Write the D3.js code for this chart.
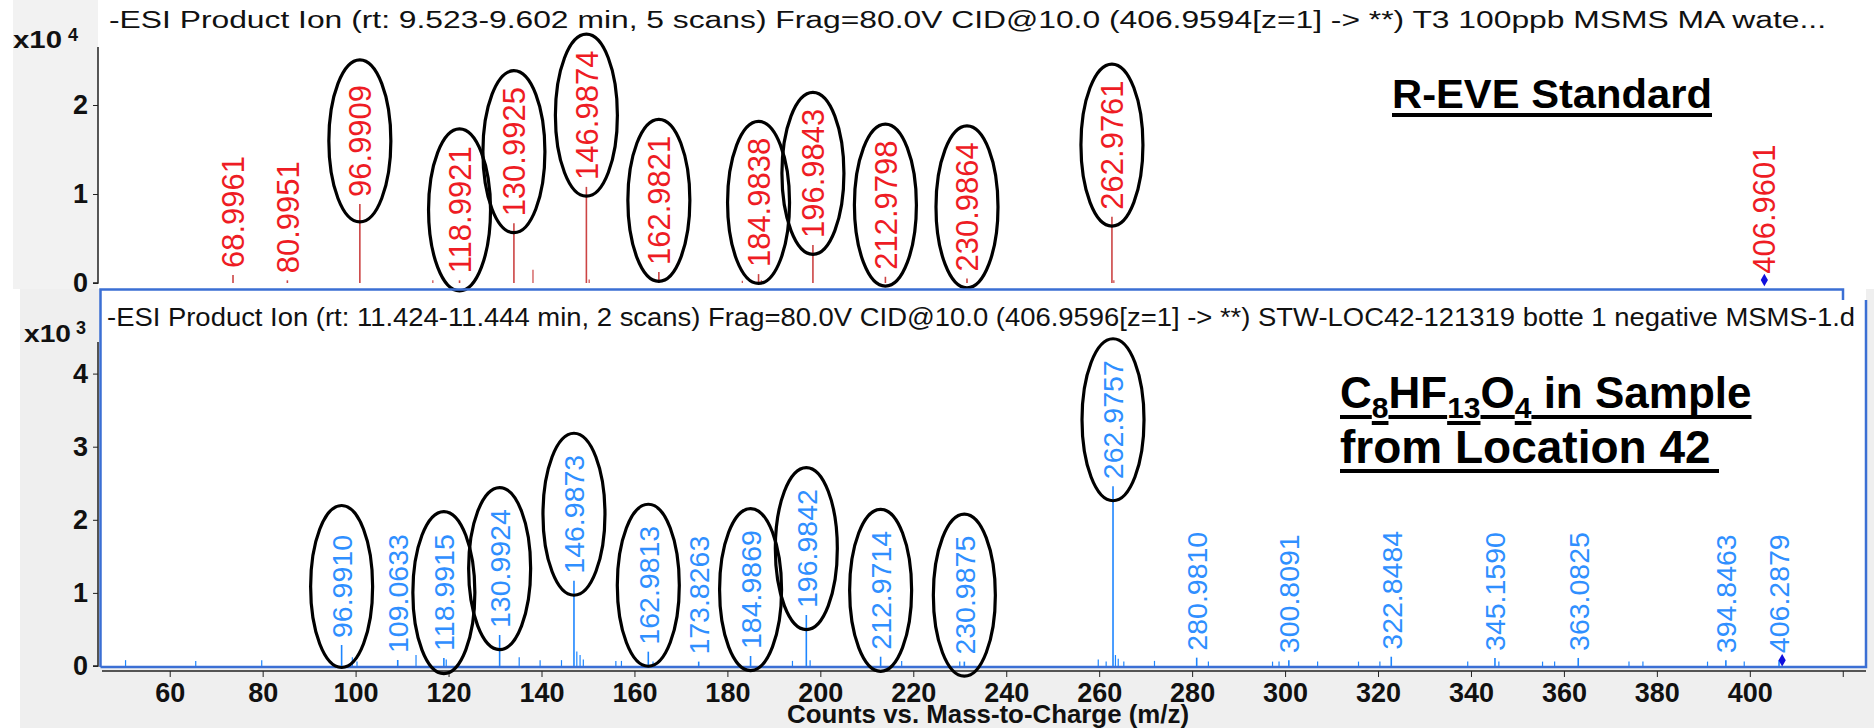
<!DOCTYPE html>
<html>
<head>
<meta charset="utf-8">
<script src="https://cdn.jsdelivr.net/npm/d3@7"></script>
<style>
  body { margin: 0; background: #ffffff; }
  svg { display: block; font-family: "Liberation Sans", Arial, sans-serif; }
</style>
</head>
<body>
<div id="plot"></div>
<script>
// two stacked MS/MS spectra, standard on top, sample below

const w = 1874;
const h = 728;

// ---- data: top spectrum (R-EVE standard), counts
const topMz = [68.9961, 80.9951, 96.9909, 118.9921, 130.9925, 146.9874, 162.9821,
               184.9838, 196.9843, 212.9798, 230.9864, 262.9761, 406.9601];
const topInt = [900, 300, 8880, 300, 6700, 10800, 1240, 1000, 4270, 700, 500, 7450, 250];
const topCircled = [0, 0, 1, 1, 1, 1, 1, 1, 1, 1, 1, 1, 0];
const topNoiseMz = [113.1, 135.2, 147.6, 181.4, 185.6, 263.4];
const topNoiseInt = [300, 1500, 400, 250, 300, 300];
const topPrecursor = [406.9594];
const topPrecursorInt = [350];

// ---- data: bottom spectrum (sample, location 42), counts
const botMz = [96.9910, 109.0633, 118.9915, 130.9924, 146.9873, 162.9813, 173.8263,
               184.9869, 196.9842, 212.9714, 230.9875, 262.9757, 280.9810, 300.8091,
               322.8484, 345.1590, 363.0825, 394.8463, 406.2879];
const botInt = [287, 82, 110, 424, 1167, 196, 60, 137, 698, 127, 60, 2460, 114, 80,
                127, 110, 110, 80, 80];
const botCircled = [1, 0, 1, 1, 1, 1, 0, 1, 1, 1, 1, 1, 0, 0, 0, 0, 0, 0, 0];
const botNoiseMz = [50.5, 65.6, 79.8, 99.3, 100.3, 113.0, 119.5, 135.2, 139.7, 144.3,
                    147.6, 148.3, 149.0, 156.0, 157.2, 164.0, 194.0, 197.8, 217.5, 230.0,
                    259.8, 261.5, 263.5, 264.1, 265.3, 271.9, 283.5, 297.3, 298.7, 307.0,
                    315.8, 320.4, 339.3, 346.0, 355.4, 358.0, 374.0, 377.0, 390.9, 398.8];
const botNoiseInt = [80, 70, 80, 120, 60, 150, 90, 120, 80, 80,
                     200, 150, 90, 70, 70, 60, 70, 80, 70, 60,
                     90, 60, 150, 100, 60, 70, 60, 60, 60, 60,
                     60, 60, 60, 60, 60, 60, 60, 60, 60, 60];
const botPrecursor = [406.9596];
const botPrecursorInt = [80];

// ---- tick values
const xTicks = [60, 80, 100, 120, 140, 160, 180, 200, 220, 240, 260, 280, 300, 320, 340, 360, 380, 400, 420];
const topYTicks = [0, 10000, 20000];
const botYTicks = [0, 1000, 2000, 3000, 4000];

const topTitle = "-ESI Product Ion (rt: 9.523-9.602 min, 5 scans) Frag=80.0V CID@10.0 (406.9594[z=1] -> **) T3 100ppb MSMS MA wate...";
const botTitle = "-ESI Product Ion (rt: 11.424-11.444 min, 2 scans) Frag=80.0V CID@10.0 (406.9596[z=1] -> **) STW-LOC42-121319 botte 1 negative MSMS-1.d";

const fmt = d3.format(".4f");

// scales
const xTop = d3.scaleLinear().domain([39.2, 424.1]).range([98, 1842]);
const yTop = d3.scaleLinear().domain([0, 10000]).range([283, 194]);
const xBot = d3.scaleLinear().domain([45, 425]).range([100, 1866]);
const yBot = d3.scaleLinear().domain([0, 1000]).range([666, 592.9]);

const svg = d3.select("#plot")
  .append("svg")
    .attr("width", w)
    .attr("height", h);

// backgrounds
svg.append("rect").attr("x", 0).attr("y", 0).attr("width", w).attr("height", h).attr("fill", "#ffffff");
svg.append("rect").attr("x", 13).attr("y", 0).attr("width", 85).attr("height", 289).attr("fill", "#f2f2f2");
svg.append("rect").attr("x", 20).attr("y", 289).attr("width", 1854).attr("height", h - 289).attr("fill", "#efefef");
svg.append("rect").attr("x", 100).attr("y", 289).attr("width", 1766).attr("height", 378).attr("fill", "#ffffff");

// ---------- top panel ----------
const topG = svg.append("g");

topG.append("text")
    .attr("x", 109).attr("y", 28)
    .attr("font-size", 23)
    .attr("fill", "#111")
    .attr("textLength", 1717)
    .attr("lengthAdjust", "spacingAndGlyphs")
    .text(topTitle);

topG.append("g")
    .attr("transform", "translate(98,0)")
    .call(d3.axisLeft(yTop).tickValues(topYTicks).tickFormat(d => d / 10000).tickSize(5).tickPadding(5))
    .call(g => g.select(".domain").attr("d", `M-5,${yTop(0)}H0V47`).attr("stroke", "#222").attr("stroke-width", 1.5))
    .call(g => g.selectAll("text").attr("font-size", 27).attr("font-weight", "bold").attr("fill", "#111"))
    .call(g => g.selectAll("line").attr("stroke", "#222"));

topG.append("text").attr("x", 13).attr("y", 48).attr("font-size", 23).attr("font-weight", "bold").attr("fill", "#111")
    .attr("textLength", 49).attr("lengthAdjust", "spacingAndGlyphs").text("x10");
topG.append("text").attr("x", 68).attr("y", 41).attr("font-size", 18).attr("font-weight", "bold").attr("fill", "#111").text("4");

// noise + peaks
const topNoise = topNoiseMz.map((m, i) => ({mz: m, v: topNoiseInt[i]}));
const topPeaks = topMz.map((m, i) => ({mz: m, v: topInt[i], c: topCircled[i]}));

topG.selectAll("line.noise").data(topNoise).enter().append("line")
    .attr("x1", d => xTop(d.mz)).attr("x2", d => xTop(d.mz))
    .attr("y1", yTop(0)).attr("y2", d => yTop(d.v))
    .attr("stroke", "#cc4444").attr("stroke-width", 1.2);

topG.selectAll("line.peak").data(topPeaks).enter().append("line")
    .attr("x1", d => xTop(d.mz)).attr("x2", d => xTop(d.mz))
    .attr("y1", yTop(0)).attr("y2", d => yTop(d.v))
    .attr("stroke", "#cc4444").attr("stroke-width", 1.6);

function drawLabels(g, peaks, xs, ys, size, color) {
  peaks.forEach(d => {
    const x = xs(d.mz);
    const y0 = ys(d.v) - 7;
    const t = g.append("text")
        .attr("transform", `translate(${x + size * 0.36},${y0}) rotate(-90)`)
        .attr("font-size", size)
        .attr("fill", color)
        .text(fmt(d.mz));
    const len = t.node().getComputedTextLength();
    if (d.c) {
      g.append("ellipse")
          .attr("cx", x).attr("cy", y0 - len / 2)
          .attr("rx", 31).attr("ry", 81)
          .attr("fill", "none").attr("stroke", "#000").attr("stroke-width", 3.2);
    }
  });
}

drawLabels(topG, topPeaks, xTop, yTop, 31, "#ee1c24");

topG.selectAll("path.prec").data(topPrecursor).enter().append("path")
    .attr("d", d3.symbol().type(d3.symbolDiamond).size(45))
    .attr("transform", (d, i) => `translate(${xTop(d)},${yTop(topPrecursorInt[i])})`)
    .attr("fill", "#1010dd");

// R-EVE Standard
topG.append("text")
    .attr("x", 1392).attr("y", 108)
    .attr("font-size", 41).attr("font-weight", "bold").attr("fill", "#000")
    .attr("textLength", 320).attr("lengthAdjust", "spacingAndGlyphs")
    .text("R-EVE Standard");
topG.append("line").attr("x1", 1392).attr("x2", 1712).attr("y1", 115).attr("y2", 115)
    .attr("stroke", "#000").attr("stroke-width", 4);

// ---------- bottom panel ----------
const botG = svg.append("g");

botG.append("path")
    .attr("d", "M100.5,667V289.5H1843V300M1866,300V667H100.5")
    .attr("fill", "none").attr("stroke", "#3b6fd4").attr("stroke-width", 2.5);

botG.append("text")
    .attr("x", 107).attr("y", 326)
    .attr("font-size", 26)
    .attr("fill", "#111")
    .attr("textLength", 1748)
    .attr("lengthAdjust", "spacingAndGlyphs")
    .text(botTitle);

botG.append("g")
    .attr("transform", "translate(98,0)")
    .call(d3.axisLeft(yBot).tickValues(botYTicks).tickFormat(d => d / 1000).tickSize(5).tickPadding(5))
    .call(g => g.select(".domain").attr("d", `M-5,${yBot(0)}H0V342`).attr("stroke", "#222").attr("stroke-width", 1.5))
    .call(g => g.selectAll("text").attr("font-size", 27).attr("font-weight", "bold").attr("fill", "#111"))
    .call(g => g.selectAll("line").attr("stroke", "#222"));

botG.append("text").attr("x", 24).attr("y", 342).attr("font-size", 23).attr("font-weight", "bold").attr("fill", "#111")
    .attr("textLength", 47).attr("lengthAdjust", "spacingAndGlyphs").text("x10");
botG.append("text").attr("x", 76).attr("y", 334).attr("font-size", 18).attr("font-weight", "bold").attr("fill", "#111").text("3");

botG.append("g")
    .attr("transform", "translate(0,671)")
    .call(d3.axisBottom(xBot).tickValues(xTicks).tickFormat(d => d === 420 ? "" : d).tickSize(6).tickPadding(6))
    .call(g => g.select(".domain").attr("d", `M102,0H1866`).attr("stroke", "#222").attr("stroke-width", 1.5))
    .call(g => g.selectAll("text").attr("font-size", 27).attr("font-weight", "bold").attr("fill", "#111"))
    .call(g => g.selectAll("line").attr("stroke", "#222"));

botG.append("text")
    .attr("x", 988).attr("y", 723)
    .attr("text-anchor", "middle")
    .attr("font-size", 25).attr("font-weight", "bold").attr("fill", "#111")
    .attr("textLength", 402).attr("lengthAdjust", "spacingAndGlyphs")
    .text("Counts vs. Mass-to-Charge (m/z)");

const botNoise = botNoiseMz.map((m, i) => ({mz: m, v: botNoiseInt[i]}));
const botPeaks = botMz.map((m, i) => ({mz: m, v: botInt[i], c: botCircled[i]}));

botG.selectAll("line.noise").data(botNoise).enter().append("line")
    .attr("x1", d => xBot(d.mz)).attr("x2", d => xBot(d.mz))
    .attr("y1", yBot(0)).attr("y2", d => yBot(d.v))
    .attr("stroke", "#1e86ff").attr("stroke-width", 1.2);

botG.selectAll("line.peak").data(botPeaks).enter().append("line")
    .attr("x1", d => xBot(d.mz)).attr("x2", d => xBot(d.mz))
    .attr("y1", yBot(0)).attr("y2", d => yBot(d.v))
    .attr("stroke", "#1e86ff").attr("stroke-width", 1.6);

drawLabels(botG, botPeaks, xBot, yBot, 28.5, "#2f8fff");

botG.selectAll("path.prec").data(botPrecursor).enter().append("path")
    .attr("d", d3.symbol().type(d3.symbolDiamond).size(45))
    .attr("transform", (d, i) => `translate(${xBot(d)},${yBot(botPrecursorInt[i])})`)
    .attr("fill", "#1010dd");

// C8HF13O4 in Sample / from Location 42
const formula = [["C", 0], ["8", 1], ["HF", 0], ["13", 1], ["O", 0], ["4", 1], [" in Sample", 0]];
let cx = 1340;
formula.forEach(([s, sub]) => {
  const t = botG.append("text")
      .attr("x", cx).attr("y", sub ? 418 : 408)
      .attr("font-size", sub ? 30 : 44).attr("font-weight", "bold").attr("fill", "#000")
      .style("white-space", "pre")
      .text(s);
  const len = t.node().getComputedTextLength();
  botG.append("line").attr("x1", cx).attr("x2", cx + len)
      .attr("y1", sub ? 423 : 417).attr("y2", sub ? 423 : 417)
      .attr("stroke", "#000").attr("stroke-width", 4);
  cx += len;
});
botG.append("text")
    .attr("x", 1340).attr("y", 463)
    .attr("font-size", 46).attr("font-weight", "bold").attr("fill", "#000")
    .text("from Location 42");
botG.append("line").attr("x1", 1340).attr("x2", 1719).attr("y1", 471).attr("y2", 471)
    .attr("stroke", "#000").attr("stroke-width", 4);
</script>
</body>
</html>
